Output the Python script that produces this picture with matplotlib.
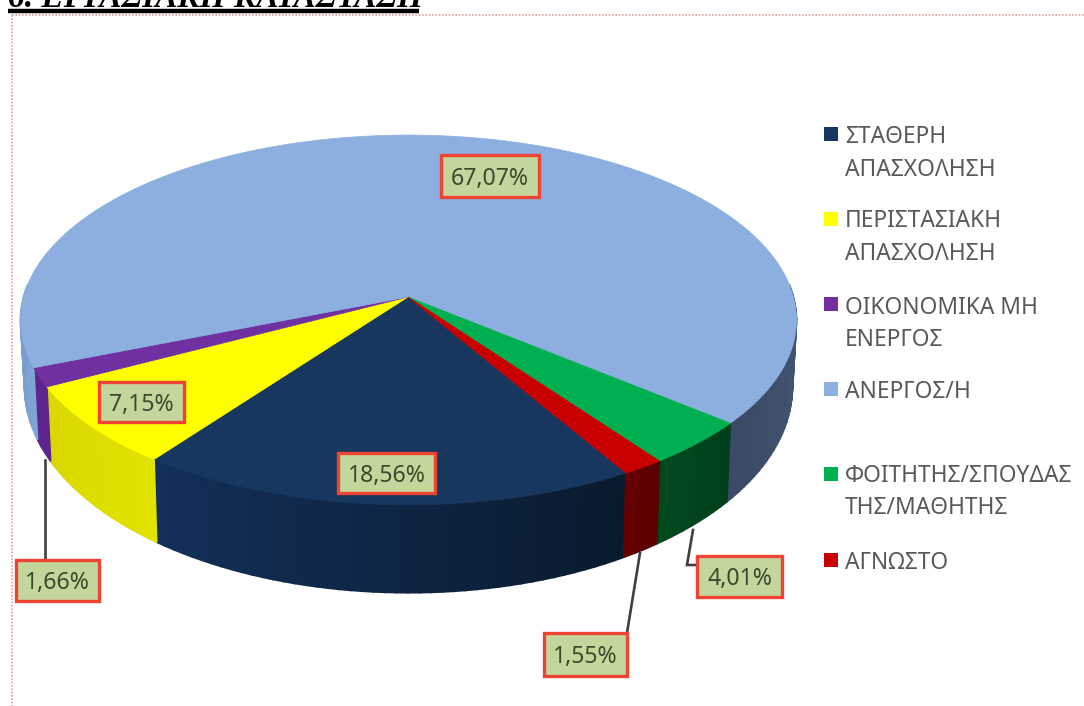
import numpy as np
import matplotlib
matplotlib.use("Agg")
import matplotlib.pyplot as plt
from matplotlib.colors import to_rgb

# ---- data ----
categories = ["ΣΤΑΘΕΡΗ\nΑΠΑΣΧΟΛΗΣΗ", "ΠΕΡΙΣΤΑΣΙΑΚΗ\nΑΠΑΣΧΟΛΗΣΗ", "ΟΙΚΟΝΟΜΙΚΑ ΜΗ\nΕΝΕΡΓΟΣ",
              "ΑΝΕΡΓΟΣ/Η", "ΦΟΙΤΗΤΗΣ/ΣΠΟΥΔΑΣ\nΤΗΣ/ΜΑΘΗΤΗΣ", "ΑΓΝΩΣΤΟ"]
values = [18.56, 7.15, 1.66, 67.07, 4.01, 1.55]
value_labels = ["18,56%", "7,15%", "1,66%", "67,07%", "4,01%", "1,55%"]
title = "6. ΕΡΓΑΣΙΑΚΗ ΚΑΤΑΣΤΑΣΗ"

# ---- style ----
top_colors = ["#17375e", "#ffff00", "#7030a0", "#8cafe0", "#00b050", "#c80000"]
wall_from = ["#0a1a2e", "#e2e200", "#5c2590", "#7ea5d6", "#00401c", "#5a0000"]
wall_to = ["#12305a", "#d8d800", "#5c2590", "#3b4a66", "#00481e", "#640000"]
label_boxes = [(338, 453, 435, 493), (99, 382, 184, 422), (16, 560, 99, 601),
               (441, 155, 539, 197), (697, 556, 782, 597), (544, 633, 627, 676)]
leaders = [None, None, [(45, 460), (45, 560)], None,
           [(693, 530), (687, 565), (697, 565)], [(640, 553), (627, 633)]]
legend_y = [134, 219, 304, 389, 474, 560]
legend_text_y = [134, 218, 305, 389, 473, 560]
legend_gap = 32.5
start_angle = -59.7

fig = plt.figure(figsize=(10.84, 7.06), dpi=100)
ax = fig.add_axes([0, 0, 1, 1])
ax.set_xlim(0, 1084)
ax.set_ylim(706, 0)
ax.axis("off")


def project(theta, plane="top"):
    """Perspective view of the disc rim at angle theta (degrees)."""
    th = np.radians(theta)
    X, Y = np.cos(th), np.sin(th)
    s = 1 / (1 + 0.124 * Y)
    if plane == "top":
        return 408.5 + 385 * X * s, 297 - 182 * Y * s
    return 408.5 + 381 * X * s, 361 - 203 * Y * s


edges = start_angle - np.concatenate([[0], np.cumsum(values)]) * 3.6

# side wall: only the part of the rim that faces the viewer
for i in range(len(values)):
    a0, a1 = edges[i], edges[i + 1]
    th = np.linspace(a0, a1, max(int(abs(a1 - a0) / 1.5), 2) + 1)
    c0, c1 = np.array(to_rgb(wall_from[i])), np.array(to_rgb(wall_to[i]))
    for j in range(len(th) - 1):
        if np.sin(np.radians(th[j:j + 2])).min() > 0.05:
            continue
        xa, ya = project(th[j:j + 2], "top")
        xb, yb = project(th[j:j + 2], "bottom")
        f = j / max(len(th) - 2, 1)
        col = c0 + (c1 - c0) * f
        ax.fill(np.r_[xa, xb[::-1]], np.r_[ya, yb[::-1]], color=col, lw=1.2, zorder=2)

# top faces
for i in range(len(values)):
    th = np.linspace(edges[i], edges[i + 1], 200)
    x, y = project(th, "top")
    ax.fill(np.r_[408, x], np.r_[297, y], color=top_colors[i], lw=0.5, zorder=3)

# leader lines
for pts in leaders:
    if pts:
        ax.plot(*zip(*pts), color="#404040", lw=1.9, zorder=4, solid_joinstyle="miter")

# data labels
for (x0, y0, x1, y1), lab in zip(label_boxes, value_labels):
    ax.fill([x0, x1, x1, x0], [y0, y0, y1, y1], facecolor="#c3d69b",
            edgecolor="#ee4433", lw=2.4, zorder=5)
    ax.text((x0 + x1) / 2, (y0 + y1) / 2, lab, ha="center", va="center_baseline",
            family="Noto Sans", fontsize=16.6, color="#3c4a2c", zorder=6)

# legend
for cat, c, my, ty in zip(categories, top_colors, legend_y, legend_text_y):
    ax.fill([824, 838, 838, 824], [my - 7, my - 7, my + 7, my + 7], color=c, lw=0, zorder=5)
    for k, line in enumerate(cat.split("\n")):
        ax.text(845, ty + k * legend_gap, line, ha="left", va="center_baseline",
                family="Noto Sans", fontsize=16.4, color="#595959", zorder=5)

# page remnants: clipped heading and dotted frame
ax.text(8, 7, title, ha="left", va="baseline", family="Liberation Serif",
        fontsize=24, fontweight="bold", fontstyle="italic", color="black", zorder=6)
ax.plot([8, 419], [11, 11], color="black", lw=3.2, solid_capstyle="butt", zorder=6)
ax.plot([12, 1084], [14.5, 14.5], color="#dba0a0", lw=1.2, ls=(0, (1, 1)), zorder=1)
ax.plot([12, 12], [14.5, 706], color="#dba0a0", lw=1.2, ls=(0, (1, 1)), zorder=1)

fig.savefig("out.png", dpi=100)
